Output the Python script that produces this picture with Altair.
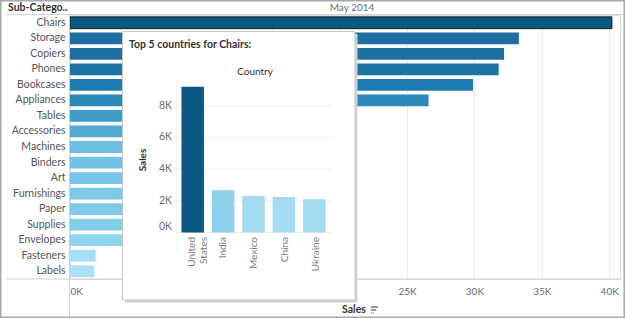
import altair as alt
import pandas as pd

# ---------------- data ----------------
categories = ["Chairs", "Storage", "Copiers", "Phones", "Bookcases", "Appliances",
              "Tables", "Accessories", "Machines", "Binders", "Art", "Furnishings",
              "Paper", "Supplies", "Envelopes", "Fasteners", "Labels"]
sales = [40200, 33300, 32200, 31800, 29900, 26600, 20000, 17500, 14500, 14000,
         13500, 13000, 12500, 12000, 10000, 1900, 1800]
x_ticks = [0, 5000, 10000, 15000, 20000, 25000, 30000, 35000, 40000]

countries = ["United States", "India", "Mexico", "China", "Ukraine"]
country_labels = ["United\nStates", "India", "Mexico", "China", "Ukraine"]
country_sales = [9200, 2660, 2300, 2240, 2100]
tip_ticks = [0, 2000, 4000, 6000, 8000]
tip_tick_labels = ["0K", "2K", "4K", "6K", "8K"]

# ---------------- styles ----------------
bar_colors = ["#0a5783", "#1f6fa0", "#1f70a1", "#1e72a4", "#1f7cb2", "#2b88b9",
              "#3e9bc9", "#53aad3", "#6bbfe2", "#72c2e3", "#77c6e6", "#7bc8e7",
              "#7ecae8", "#82cde9", "#8fd5ef", "#a6dff4", "#a9e0f5"]
country_colors = ["#0a5783", "#8dd1ee", "#a3dcf1", "#a3dcf1", "#a3dcf1"]
FONT = "Lato"

main_df = pd.DataFrame({"cat": categories, "sales": sales})
tip_df = pd.DataFrame({"country": countries, "label": country_labels, "sales": country_sales})
tick_df = pd.DataFrame({"v": tip_ticks, "t": tip_tick_labels})
one = pd.DataFrame({"k": [0]})

# ---------------- main bar chart ----------------
x_main = alt.X("sales:Q",
               scale=alt.Scale(domain=[0, 40800], nice=False, zero=True),
               axis=alt.Axis(values=x_ticks, labelExpr="datum.value/1000 + 'K'",
                             grid=True, gridColor="#ececec", domain=False, ticks=False,
                             labelFlush=True, labelPadding=7, labelFont=FONT,
                             labelFontSize=10, labelColor="#6b6b6b", title=None, zindex=0))
y_main = alt.Y("cat:N", sort=categories,
               scale=alt.Scale(domain=categories, paddingInner=0.24, paddingOuter=0.12),
               axis=alt.Axis(title=None, domain=False, ticks=False, labelPadding=5,
                             labelFont=FONT, labelFontSize=10.5, labelColor="#555555",
                             zindex=0))

bars = alt.Chart(main_df).mark_bar(strokeWidth=1).encode(
    x=x_main, y=y_main,
    color=alt.Color("cat:N", scale=alt.Scale(domain=categories, range=bar_colors), legend=None),
    stroke=alt.condition(alt.datum.cat == "Chairs", alt.value("#1c1c1c"), alt.value("transparent")),
)

def rule(x, x2, y, y2, color, width=1, dash=None):
    kw = dict(color=color, strokeWidth=width)
    if dash:
        kw["strokeDash"] = dash
    return alt.Chart(one).mark_rule(**kw).encode(
        x=alt.value(x), x2=alt.value(x2), y=alt.value(y), y2=alt.value(y2))

def label(txt, x, y, size, color, weight="normal", align="left", angle=0):
    return alt.Chart(one).mark_text(text=txt, font=FONT, fontSize=size, color=color,
                                    fontWeight=weight, align=align, baseline="middle",
                                    angle=angle).encode(x=alt.value(x), y=alt.value(y))

# separators / header
header_line = rule(-64, 554, -0.5, -0.5, "#d4d4d4")
col_line = rule(-0.5, -0.5, -0.5, 303, "#cfcfcf")
axis_line = rule(-64, 551, 264, 264, "#cfcfcf")
sub_hdr = label("Sub-Catego..", -62, -7, 10.5, "#333333", weight="bold")
month_hdr = label("May 2014", 282, -7.5, 10, "#6b6b6b", align="center")
sales_title = label("Sales", 272, 295, 10.5, "#333333", weight="bold")
icon1 = rule(301, 308, 292, 292, "#555555", 1.2)
icon2 = rule(301, 306, 295, 295, "#555555", 1.2)
icon3 = rule(301, 304, 298, 298, "#555555", 1.2, dash=[1, 1])

# ---------------- tooltip panel ----------------
shadow = alt.Chart(one).mark_rect(color="#d2d2d2").encode(
    x=alt.value(55), x2=alt.value(287.5), y=alt.value(19), y2=alt.value(287.5))
box = alt.Chart(one).mark_rect(fill="white", stroke="#c6c6c6", strokeWidth=1).encode(
    x=alt.value(52.5), x2=alt.value(285), y=alt.value(16.5), y2=alt.value(285))

x_tip = alt.X("country:N", sort=countries,
              scale=alt.Scale(domain=countries, range=[106, 261],
                              paddingInner=0.26, paddingOuter=0.18), axis=None)

def y_tip(field):
    return alt.Y(field, scale=alt.Scale(domain=[0, 10000], range=[217.5, 59],
                                        nice=False, zero=True), axis=None)

tip_grid = alt.Chart(tick_df).mark_rule(color="#efefef", strokeWidth=1).encode(
    y=y_tip("v:Q"), x=alt.value(106), x2=alt.value(263))
tip_left = rule(107, 107, 65, 236, "#efefef")

tip_bars = alt.Chart(tip_df).mark_bar().encode(
    x=x_tip, y=y_tip("sales:Q"),
    color=alt.Color("country:N", scale=alt.Scale(domain=countries, range=country_colors),
                    legend=None))

tip_tick_text = alt.Chart(tick_df).transform_filter("datum.v > 0").mark_text(
    font=FONT, fontSize=10.5, color="#6b6b6b", align="right", baseline="middle").encode(
    y=y_tip("v:Q"), x=alt.value(102), text="t:N")
tip_zero_text = alt.Chart(tick_df).transform_filter("datum.v == 0").mark_text(
    font=FONT, fontSize=10.5, color="#6b6b6b", align="right", baseline="middle", dy=-6).encode(
    y=y_tip("v:Q"), x=alt.value(102), text="t:N")

tip_country = alt.Chart(tip_df).mark_text(
    font=FONT, fontSize=10, color="#7a7a7a", align="right", baseline="middle",
    angle=270, lineBreak="\n", lineHeight=12).encode(
    x=x_tip, y=alt.value(222), text="label:N")

tip_title = label("Top 5 countries for Chairs:", 59, 30, 10.5, "#333333", weight="bold")
tip_country_hdr = label("Country", 185, 57, 10, "#333333", align="center")
tip_sales_hdr = label("Sales", 73, 145, 10, "#333333", weight="bold", align="center", angle=270)

border = alt.Chart(one).mark_rect(fill="transparent", stroke="#a8a8a8", strokeWidth=1.5).encode(
    x=alt.value(-69.2), x2=alt.value(554.2), y=alt.value(-14.2), y2=alt.value(302.2))

chart = alt.layer(
    bars, header_line, col_line, axis_line, sub_hdr, month_hdr, sales_title,
    icon1, icon2, icon3,
    shadow, box, tip_grid, tip_left, tip_bars, tip_tick_text, tip_zero_text,
    tip_country, tip_title, tip_country_hdr, tip_sales_hdr, border
).resolve_scale(
    x="independent", y="independent", color="independent"
).properties(
    width=550, height=264,
    padding={"left": 70, "top": 15, "right": 5, "bottom": 39},
    autosize=alt.AutoSizeParams(type="none"),
    background="white",
).configure_view(stroke=None).configure(font=FONT)

chart.save("out.html", embed_options={"renderer": "svg", "actions": False})
